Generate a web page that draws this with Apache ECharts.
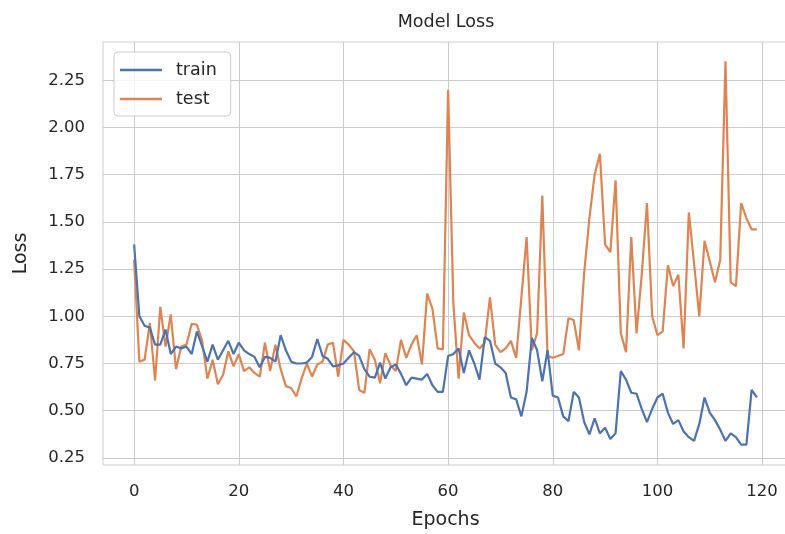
<!DOCTYPE html>
<html>
<head>
<meta charset="utf-8">
<script src="https://cdn.jsdelivr.net/npm/echarts@6/dist/echarts.min.js"></script>
<style>
html,body{margin:0;padding:0;background:#fff;}
#chart{width:785px;height:534px;}
</style>
</head>
<body>
<div id="chart"></div>
<script>
const epochs = Array.from({length: 120}, (_, i) => i);
const trainLoss = [
1.38,1.00,0.95,0.94,0.85,0.85,0.93,0.80,0.84,0.83,
0.84,0.80,0.92,0.84,0.76,0.85,0.77,0.82,0.87,0.80,
0.86,0.82,0.80,0.785,0.73,0.785,0.78,0.76,0.90,0.82,
0.76,0.75,0.75,0.755,0.785,0.88,0.79,0.775,0.735,0.74,
0.75,0.78,0.81,0.79,0.72,0.68,0.675,0.755,0.67,0.73,
0.745,0.695,0.635,0.675,0.67,0.665,0.695,0.635,0.60,0.60,
0.79,0.80,0.83,0.70,0.82,0.75,0.665,0.89,0.87,0.75,
0.73,0.70,0.57,0.56,0.47,0.60,0.886,0.82,0.656,0.82,
0.58,0.57,0.47,0.445,0.60,0.57,0.44,0.375,0.46,0.38,
0.41,0.35,0.38,0.71,0.665,0.595,0.59,0.51,0.44,0.51,
0.57,0.59,0.49,0.43,0.45,0.39,0.36,0.34,0.43,0.57,
0.49,0.45,0.40,0.34,0.38,0.36,0.32,0.32,0.61,0.57
];
const testLoss = [
1.30,0.76,0.77,0.965,0.66,1.05,0.84,1.01,0.72,0.84,
0.85,0.96,0.955,0.87,0.67,0.77,0.64,0.69,0.815,0.735,
0.80,0.71,0.73,0.70,0.68,0.86,0.71,0.85,0.72,0.63,
0.62,0.575,0.67,0.75,0.68,0.745,0.76,0.85,0.86,0.68,
0.875,0.85,0.815,0.61,0.595,0.825,0.77,0.645,0.805,0.74,
0.71,0.875,0.78,0.85,0.90,0.745,1.12,1.04,0.83,0.825,
2.20,1.07,0.67,1.02,0.90,0.86,0.83,0.86,1.10,0.85,
0.81,0.83,0.87,0.78,1.10,1.42,0.82,0.91,1.64,0.79,
0.78,0.79,0.80,0.99,0.98,0.82,1.23,1.52,1.75,1.86,
1.38,1.34,1.72,0.91,0.81,1.42,0.91,1.22,1.60,1.00,
0.90,0.92,1.27,1.16,1.22,0.83,1.55,1.28,1.00,1.40,
1.29,1.18,1.30,2.35,1.18,1.16,1.60,1.52,1.46,1.46
];
const xTicks = [0, 20, 40, 60, 80, 100, 120];
const yTicks = [0.25, 0.5, 0.75, 1.0, 1.25, 1.5, 1.75, 2.0, 2.25];
const seriesNames = ['train', 'test'];
const title = 'Model Loss';
const xName = 'Epochs';
const yName = 'Loss';

const textColor = '#262626';
const gridColor = '#cccccc';
const font = 'DejaVu Sans';

const chart = echarts.init(document.getElementById('chart'), null, {renderer: 'canvas'});
chart.setOption({
  backgroundColor: '#ffffff',
  animation: false,
  title: {
    text: title, left: 441, top: 8, textAlign: 'center',
    textStyle: {fontFamily: font, fontSize: 17.5, fontWeight: 'normal', color: textColor}
  },
  legend: {
    orient: 'vertical', left: 114, top: 52,
    data: seriesNames,
    icon: 'rect', itemWidth: 42, itemHeight: 2.5, itemGap: 11,
    padding: [9, 14, 8, 6],
    borderColor: '#cccccc', borderWidth: 1, borderRadius: 4,
    backgroundColor: 'rgba(255,255,255,0.8)',
    textStyle: {fontFamily: font, fontSize: 17.5, color: textColor, padding: [0,0,0,9]}
  },
  grid: {left: 103, right: -3, top: 42, bottom: 69, show: true, borderColor: gridColor, borderWidth: 1,
    containLabel: false, outerBoundsMode: 'none'},
  xAxis: {
    type: 'value', min: -5.95, max: 124.95,
    name: xName, nameLocation: 'middle', nameGap: 46,
    nameTextStyle: {fontFamily: font, fontSize: 19, color: textColor},
    axisLine: {show: false}, axisTick: {show: false, customValues: xTicks},
    axisLabel: {customValues: xTicks, fontFamily: font, fontSize: 16.5, color: textColor, margin: 18},
    splitLine: {show: true, lineStyle: {color: gridColor, width: 1}}
  },
  yAxis: {
    type: 'value', min: 0.2125, max: 2.4525,
    name: yName, nameLocation: 'middle', nameGap: 72, nameRotate: 90,
    nameTextStyle: {fontFamily: font, fontSize: 19, color: textColor},
    axisLine: {show: false}, axisTick: {show: false, customValues: yTicks},
    axisLabel: {customValues: yTicks, fontFamily: font, fontSize: 16.5, color: textColor, margin: 18,
      formatter: v => v.toFixed(2)},
    splitLine: {show: true, lineStyle: {color: gridColor, width: 1}}
  },
  series: [
    {name: seriesNames[0], type: 'line', data: epochs.map((e, i) => [e, trainLoss[i]]),
     showSymbol: false, lineStyle: {color: '#4c72b0', width: 2.2}, itemStyle: {color: '#4c72b0'}, z: 3},
    {name: seriesNames[1], type: 'line', data: epochs.map((e, i) => [e, testLoss[i]]),
     showSymbol: false, lineStyle: {color: '#dd8452', width: 2.2}, itemStyle: {color: '#dd8452'}, z: 2}
  ]
});
</script>
</body>
</html>
